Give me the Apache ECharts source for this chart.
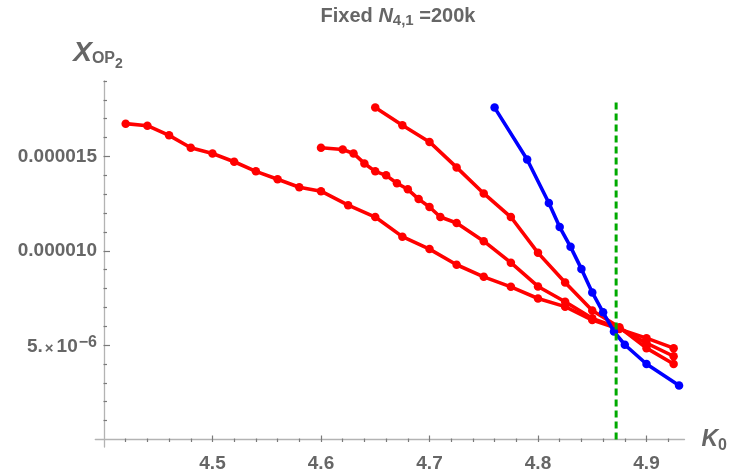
<!DOCTYPE html>
<html>
<head>
<meta charset="utf-8">
<script src="https://cdn.jsdelivr.net/npm/echarts@6/dist/echarts.min.js"></script>
<style>html,body{margin:0;padding:0;background:#fff}#c{width:730px;height:473px}</style>
</head>
<body>
<div id="c"></div>
<script>
// ---- data (K0 on x, X_OP2 on y) ----
const kA = [4.42,4.44,4.46,4.48,4.50,4.52,4.54,4.56,4.58,4.60,4.625,4.65,4.675,4.70,4.725,4.75,4.775,4.80,4.825,4.85,4.875,4.90,4.925];
const xA = [16.74e-6,16.63e-6,16.12e-6,15.46e-6,15.16e-6,14.72e-6,14.21e-6,13.79e-6,13.37e-6,13.16e-6,12.42e-6,11.79e-6,10.75e-6,10.09e-6,9.26e-6,8.62e-6,8.09e-6,7.47e-6,7.04e-6,6.33e-6,5.85e-6,5.37e-6,4.84e-6];
const kB = [4.60,4.62,4.63,4.64,4.65,4.66,4.67,4.68,4.69,4.70,4.71,4.725,4.75,4.775,4.80,4.825,4.85,4.875,4.90,4.925];
const xB = [15.46e-6,15.37e-6,15.16e-6,14.63e-6,14.21e-6,14.00e-6,13.58e-6,13.26e-6,12.74e-6,12.32e-6,11.79e-6,11.47e-6,10.51e-6,9.37e-6,8.11e-6,7.30e-6,6.42e-6,5.90e-6,5.11e-6,4.41e-6];
const kC = [4.65,4.675,4.70,4.725,4.75,4.775,4.80,4.825,4.85,4.875,4.90,4.925];
const xC = [17.59e-6,16.65e-6,15.77e-6,14.42e-6,13.04e-6,11.79e-6,9.89e-6,8.32e-6,6.84e-6,5.95e-6,4.84e-6,4.00e-6];
const kBlue = [4.76,4.79,4.81,4.82,4.83,4.84,4.85,4.86,4.87,4.88,4.90,4.93];
const xBlue = [17.59e-6,14.84e-6,12.53e-6,11.26e-6,10.21e-6,9.04e-6,7.79e-6,6.74e-6,5.72e-6,5.02e-6,4.00e-6,2.86e-6];
const kCrit = [4.872, 4.872];
const xCrit = [0, 18e-6];

// ---- ticks ----
const xMajorTicks = [4.5,4.6,4.7,4.8,4.9];
const xMajorLabels = ['4.5','4.6','4.7','4.8','4.9'];
const xMinorTicks = [4.42,4.44,4.46,4.48,4.52,4.54,4.56,4.58,4.62,4.64,4.66,4.68,4.72,4.74,4.76,4.78,4.82,4.84,4.86,4.88,4.92];
const yMajorTicks = [5e-6,10e-6,15e-6];
const yMajorLabels = ['{m|5.}{t|×}{m|10}{e|−6}','0.000010','0.000015'];
const yMinorTicks = [1e-6,2e-6,3e-6,4e-6,6e-6,7e-6,8e-6,9e-6,11e-6,12e-6,13e-6,14e-6,16e-6,17e-6,18e-6,19e-6];

const zip = (a,b) => a.map((v,i)=>[v,b[i]]);
const gray = '#666666';
const axisGray = '#b3b3b3';
const tickGray = '#7a7a7a';
const FF = 'Liberation Sans';

const xRange = {min: 4.392, max: 4.935};
const yRange = {min: -0.4e-6, max: 19e-6};
// layout (px)
const G = {left:95.3, right:45, top:81, bottom:23.4, W:730, H:473};
const yAxisX = 104;            // where K0 = 4.40 sits
const xAxisY = 442;            // where X = 0 sits

function nearest(ticks, labels, v){
  let bi=0, bd=Infinity;
  ticks.forEach((t,i)=>{const d=Math.abs(t-v); if(d<bd){bd=d;bi=i;}});
  return labels[bi];
}

const chart = echarts.init(document.getElementById('c'), null, {renderer:'canvas'});
function series(name, k, x, color, z){
  return {
    name, type:'line', xAxisIndex:0, yAxisIndex:0, data: zip(k,x),
    symbol:'circle', symbolSize:8.5, showSymbol:true,
    lineStyle:{color, width:3.6}, itemStyle:{color}, z, animation:false
  };
}
function tickAxisX(values, len){
  return {
    type:'value', position:'top', min:xRange.min, max:xRange.max,
    offset:-(xAxisY - G.top),
    axisLine:{show:false, onZero:false},
    axisTick:{show:true, inside:false, length:len, customValues:values, lineStyle:{color:tickGray, width:1.2}},
    axisLabel:{show:false}, splitLine:{show:false}
  };
}
function tickAxisY(values, len){
  return {
    type:'value', position:'right', min:yRange.min, max:yRange.max,
    offset:-((G.W - G.right) - yAxisX),
    axisLine:{show:false, onZero:false},
    axisTick:{show:true, inside:false, length:len, customValues:values, lineStyle:{color:tickGray, width:1.2}},
    axisLabel:{show:false}, splitLine:{show:false}
  };
}
chart.setOption({
  animation:false,
  title:{
    text:'{b|Fixed }{n|N}{s|4,1}{b| =200k}',
    left:393, top:1, textAlign:'center',
    textStyle:{
      rich:{
        b:{fontFamily:FF, fontWeight:'bold', fontSize:20, color:gray, verticalAlign:'top', lineHeight:22},
        n:{fontFamily:FF, fontWeight:'bold', fontStyle:'italic', fontSize:20, color:gray, verticalAlign:'top', lineHeight:22},
        s:{fontFamily:FF, fontWeight:'bold', fontSize:15, color:gray, verticalAlign:'bottom', lineHeight:15, padding:[12,0,0,0]}
      }
    }
  },
  grid:{left:G.left, right:G.right, top:G.top, bottom:G.bottom, containLabel:false},
  xAxis:[
    {
      type:'value', position:'bottom', min:xRange.min, max:xRange.max,
      axisLine:{show:true, onZero:true, lineStyle:{color:axisGray, width:1.3}},
      axisTick:{show:false},
      axisLabel:{show:true, customValues:xMajorTicks, margin:7,
        formatter:v=>nearest(xMajorTicks,xMajorLabels,v),
        fontFamily:FF, fontWeight:'bold', fontSize:19, color:gray},
      splitLine:{show:false},
      name:'{k|K}{s|0}', nameLocation:'end', nameGap:17,
      nameTextStyle:{rich:{
        k:{fontFamily:FF, fontStyle:'italic', fontWeight:'bold', fontSize:23, color:gray},
        s:{fontFamily:FF, fontWeight:'bold', fontSize:16, color:gray, padding:[12,0,0,0]}
      }}
    },
    tickAxisX(xMajorTicks, 6.5),
    tickAxisX(xMinorTicks, 3.5)
  ],
  yAxis:[
    {
      type:'value', position:'left', min:yRange.min, max:yRange.max, offset:-(yAxisX - G.left),
      axisLine:{show:true, onZero:false, lineStyle:{color:axisGray, width:1.3}},
      axisTick:{show:false},
      axisLabel:{show:true, customValues:yMajorTicks, margin:7,
        formatter:v=>nearest(yMajorTicks,yMajorLabels,v),
        fontFamily:FF, fontWeight:'bold', fontSize:19, color:gray,
        rich:{
          m:{fontFamily:FF, fontWeight:'bold', fontSize:19, color:gray, verticalAlign:'bottom', lineHeight:22},
          t:{fontFamily:FF, fontSize:15, color:gray, verticalAlign:'bottom', lineHeight:20, padding:[0,3,0,2]},
          e:{fontFamily:FF, fontWeight:'bold', fontSize:16, color:gray, verticalAlign:'top', lineHeight:16, padding:[0,0,15,1]}
        }},
      splitLine:{show:false},
      name:'{x|X}{o|OP}{t|2}', nameLocation:'end', nameGap:14,
      nameTextStyle:{align:'center', verticalAlign:'bottom', padding:[0,12,0,0], rich:{
        x:{fontFamily:FF, fontStyle:'italic', fontWeight:'bold', fontSize:28, color:gray, verticalAlign:'top', lineHeight:28},
        o:{fontFamily:FF, fontWeight:'bold', fontSize:16, color:gray, verticalAlign:'top', lineHeight:16, padding:[12,0,0,0]},
        t:{fontFamily:FF, fontWeight:'bold', fontSize:14, color:gray, verticalAlign:'top', lineHeight:14, padding:[18,0,0,0]}
      }}
    },
    tickAxisY(yMajorTicks, 6.5),
    tickAxisY(yMinorTicks, 3.5)
  ],
  series:[
    series('A', kA, xA, '#ff0000', 2),
    series('B', kB, xB, '#ff0000', 2),
    series('C', kC, xC, '#ff0000', 2),
    series('blue', kBlue, xBlue, '#0000ff', 3),
    {
      name:'crit', type:'line', data: zip(kCrit, xCrit), symbol:'none', z:4,
      lineStyle:{color:'#00aa00', width:3, type:[7,4]}, animation:false
    }
  ]
});
</script>
</body>
</html>
